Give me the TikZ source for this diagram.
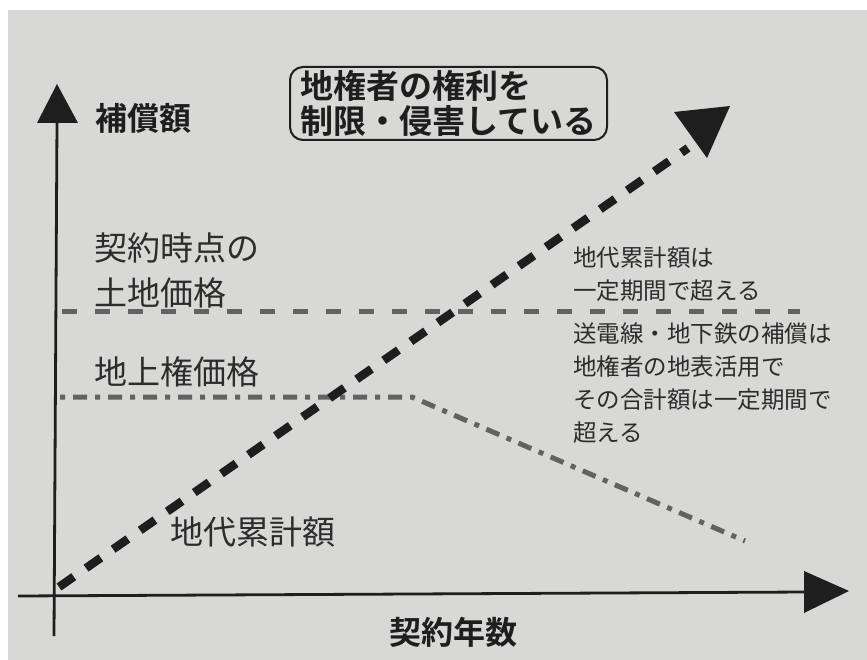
\documentclass[tikz,border=0pt]{standalone}
\usepackage{fontspec}
\newfontfamily\jp{Noto Sans CJK JP}
\newfontfamily\jpb{Noto Sans CJK JP Bold}
\definecolor{paper}{HTML}{D8D8D6}
\definecolor{ink}{HTML}{1E1E1E}
\definecolor{txt}{HTML}{2C2C2C}
\definecolor{grayline}{HTML}{626262}
\tikzset{
  axisline/.style={line width=2.8pt, draw=ink},
  headfill/.style={fill=ink, draw=none},
  bigdash/.style={line width=8.5pt, draw=ink, dash pattern=on 18pt off 15pt},
  priceline/.style={line width=5pt, draw=grayline, dash pattern=on 15pt off 18pt},
  surfline/.style={line width=5pt, draw=grayline, dash pattern=on 5pt off 8pt on 14pt off 8pt},
  boldlabel/.style={inner sep=0pt, text=ink, font=\jpb\fontsize{32}{36}\selectfont},
  biglabel/.style={inner sep=0pt, text=txt, align=left, font=\jp\fontsize{33}{45}\selectfont},
  smalllabel/.style={inner sep=0pt, text=txt, align=left, font=\jp\fontsize{23.5}{33}\selectfont},
  notebox/.style={draw=ink, line width=2pt, rounded corners=13pt, minimum width=317pt, minimum height=73pt, inner sep=0pt, align=left, text=ink, font=\jpb\fontsize{33}{35}\selectfont}
}
\begin{document}
\begin{tikzpicture}[x=1pt,y=-1pt]
\useasboundingbox (0,0) rectangle (867,660);
\fill[white] (0,0) rectangle (867,660);
\fill[paper] (8,10) rectangle (867,660);

% coordinates
\coordinate (O) at (59,587);
\coordinate (ybot) at (54,636);
\coordinate (ytop) at (57,122);
\coordinate (xleft) at (18,596);
\coordinate (xright) at (806,592);
\coordinate (dashend) at (688,148);
\coordinate (priceL) at (62,311);
\coordinate (priceR) at (800,311);
\coordinate (surfL) at (60,397);
\coordinate (surfK) at (412,397);
\coordinate (surfE) at (745,541);

% reference lines
\draw[priceline] (priceL) -- (priceR);
\draw[surfline] (surfL) -- (surfK) -- (surfE);

% cumulative rent
\draw[bigdash] (O) -- (dashend);
\fill[headfill] (674,112) -- (730,106) -- (707,158) -- cycle;

% axes
\draw[axisline] (ybot) -- (ytop);
\fill[headfill] (37,123) -- (78,123) -- (57,84) -- cycle;
\draw[axisline] (xleft) -- (xright);
\fill[headfill] (804,571) -- (804,613) -- (849,591) -- cycle;

% labels
\node[boldlabel, anchor=west] (ylab) at (95,118) {補償額};
\node[boldlabel, anchor=center] (xlab) at (453,632) {契約年数};
\node[notebox] (box) at (448.5,103.5) {地権者の権利を\\制限・侵害している};
\node[biglabel, anchor=west] (plab) at (94,270) {契約時点の\\土地価格};
\node[biglabel, anchor=west] (slab) at (94,372) {地上権価格};
\node[biglabel, anchor=west] (rlab) at (170,532) {地代累計額};
\node[smalllabel, anchor=west] (n1) at (573,274) {地代累計額は\\一定期間で超える};
\node[smalllabel, anchor=west] (n2) at (573,383) {送電線・地下鉄の補償は\\地権者の地表活用で\\その合計額は一定期間で\\超える};
\end{tikzpicture}
\end{document}
